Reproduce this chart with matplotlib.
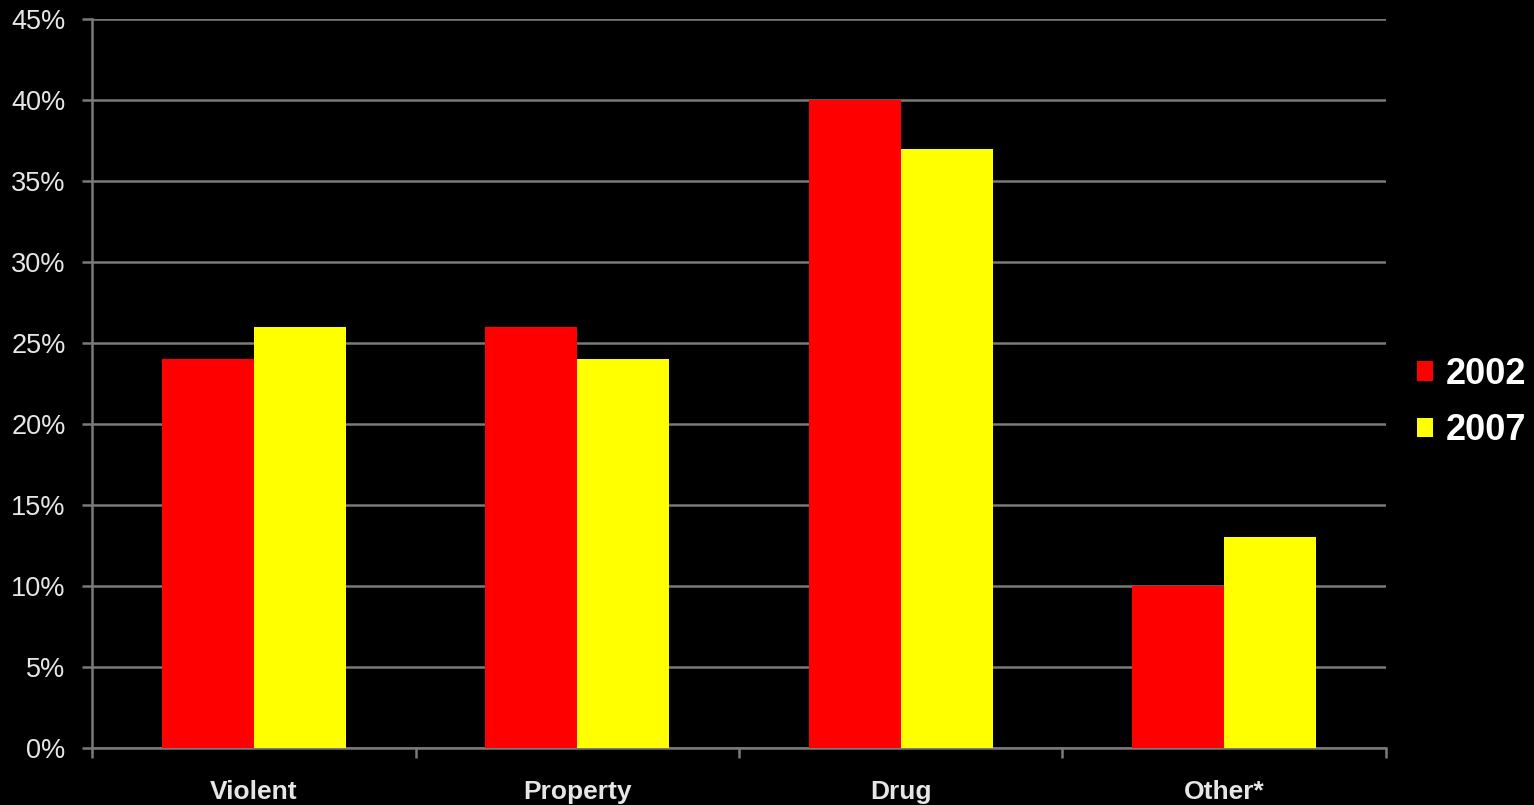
import matplotlib.pyplot as plt
import numpy as np
from matplotlib.ticker import FixedLocator

categories = ["Violent", "Property", "Drug", "Other*"]
years = ["2002", "2007"]
vals_2002 = [24, 26, 40, 10]
vals_2007 = [26, 24, 37, 13]
yticks = [0, 5, 10, 15, 20, 25, 30, 35, 40, 45]
ytick_labels = ["%d%%" % v for v in yticks]

plt.rcParams['font.family'] = ['Liberation Sans', 'DejaVu Sans']

fig = plt.figure(figsize=(15.34, 8.05), dpi=100, facecolor="black")
ax = fig.add_axes([0.06, 0.0708, 0.8435, 0.9056], facecolor="black")

x = np.arange(len(categories))
w = 0.285
grid_col = "#7a7a7a"
txt_col = "#e6e6e6"

ax.set_axisbelow(True)
ax.yaxis.grid(True, color=grid_col, lw=1.8)
ax.bar(x - w / 2, vals_2002, w, color="#ff0000", label=years[0], zorder=3)
ax.bar(x + w / 2, vals_2007, w, color="#ffff00", label=years[1], zorder=3)

ax.set_xlim(-0.5, len(categories) - 0.5)
ax.set_ylim(0, 45)
ax.set_yticks(yticks)
ax.set_yticklabels(ytick_labels, fontsize=19.5, color=txt_col)
ax.set_xticks(x)
ax.set_xticklabels(categories, fontsize=19, fontweight="bold", color=txt_col)
ax.xaxis.set_minor_locator(FixedLocator(np.arange(-0.5, len(categories), 1.0)))
ax.tick_params(axis="x", which="major", length=0, pad=23)
ax.tick_params(axis="x", which="minor", length=7, width=1.8, color=grid_col)
ax.tick_params(axis="y", length=7, width=1.8, color=grid_col, pad=12)

for s in ["top", "right"]:
    ax.spines[s].set_visible(False)
for s in ["left", "bottom"]:
    ax.spines[s].set_color(grid_col)
    ax.spines[s].set_linewidth(1.8)

leg = fig.legend(loc="center left", bbox_to_anchor=(0.9025, 0.5), frameon=False,
                 prop={"size": 26, "weight": "bold"}, labelcolor="white",
                 handlelength=0.45, handleheight=0.45, handletextpad=0.35,
                 labelspacing=0.6)

fig.savefig("out.png", dpi=100, facecolor="black")
